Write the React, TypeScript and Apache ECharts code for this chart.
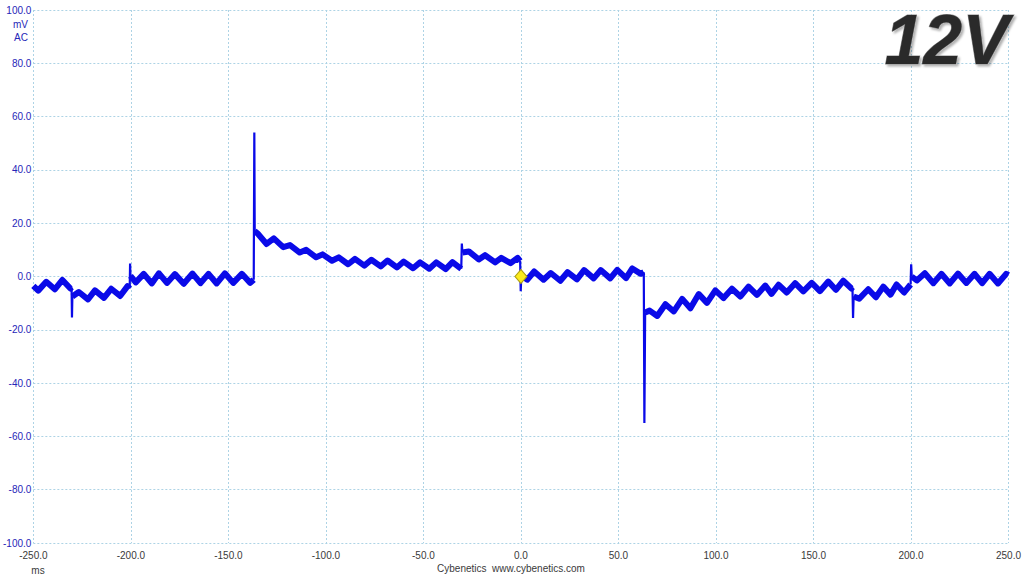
import React, { useEffect, useRef } from "react";
import * as echarts from "echarts";

// ---- Data (time in ms, ripple in mV) ----
const segA: [number, number][] = [
  [-250, -3.5], [-247.5, -5.3], [-243.4, -2.0], [-239.0, -4.8], [-235.1, -1.3], [-231.0, -4.5], [-230.4, -4.0],
];
const segB: [number, number][] = [
  [-230.0, -7.5], [-226.7, -5.8], [-222.0, -8.6], [-218.4, -5.2], [-213.8, -8.0], [-210.1, -4.6],
  [-205.5, -7.3], [-201.7, -3.6], [-200.6, -4.5],
];
const segC: [number, number][] = [
  [-200.2, 0.2], [-197.5, -2.2], [-193.4, 1.0], [-189.3, -2.6], [-185.6, 1.2], [-181.5, -2.4],
  [-177.4, 0.9], [-172.9, -2.7], [-168.4, 1.1], [-164.3, -2.5], [-160.2, 1.0], [-156.0, -2.6],
  [-151.8, 1.2], [-147.5, -2.4], [-143.1, 1.0], [-138.8, -2.4], [-137.0, -1.2],
];
const segD: [number, number][] = [
  [-136.5, 17.0], [-135.1, 16.2], [-130.4, 12.2], [-126.7, 14.3], [-121.9, 11.0], [-118.4, 11.8],
  [-113.4, 9.0], [-110.1, 10.0], [-105.0, 7.2], [-101.7, 8.3], [-96.9, 5.9], [-93.4, 7.2],
  [-88.6, 4.6], [-85.1, 6.6], [-80.3, 4.1], [-76.7, 6.3], [-71.9, 3.8], [-68.4, 6.0],
  [-63.6, 3.4], [-60.1, 5.6], [-55.3, 3.1], [-51.7, 5.3], [-47.0, 2.9], [-43.4, 5.3],
  [-38.6, 2.8], [-35.1, 5.4], [-30.6, 2.9],
];
const segE: [number, number][] = [
  [-30.0, 9.0], [-26.7, 9.4], [-21.6, 6.4], [-18.4, 8.0], [-13.2, 5.3], [-10.1, 7.0],
  [-5.3, 5.0], [-1.7, 7.0], [-0.4, 5.8],
];
const segF: [number, number][] = [
  [0.2, 0.5], [3.2, -1.2], [6.8, 1.9], [11.6, -1.2], [15.3, 1.3], [20.2, -1.6], [23.9, 1.6],
  [28.7, -1.1], [32.4, 2.4], [37.3, -0.7], [40.9, 2.4], [45.8, -0.7], [49.4, 2.5], [53.9, -0.6],
  [57.1, 3.0], [61.5, 1.0], [63.0, 1.6],
];
const segG: [number, number][] = [
  [63.7, -13.5], [66.0, -12.8], [69.9, -14.8], [74.1, -10.4], [78.4, -13.1], [82.7, -8.4],
  [86.9, -11.9], [91.2, -6.6], [95.4, -9.9], [99.7, -5.2], [103.9, -8.1], [108.2, -4.6],
  [112.5, -7.5], [116.7, -3.8], [121.0, -6.9], [125.3, -3.4], [128.5, -6.5], [132.1, -3.1],
  [136.3, -6.0], [140.6, -2.5], [144.8, -5.6], [149.1, -2.4], [153.3, -5.5], [157.6, -1.9],
  [161.5, -5.0], [165.3, -1.6], [169.5, -4.5], [170.0, -4.0],
];
const segH: [number, number][] = [
  [170.6, -7.5], [173.5, -8.3], [178.1, -4.8], [182.0, -7.8], [185.8, -3.8], [189.5, -6.8],
  [192.6, -3.0], [196.5, -6.0], [199.8, -3.0],
];
const segI: [number, number][] = [
  [200.4, 0.0], [203.0, -1.5], [207.1, 1.2], [211.5, -2.5], [215.6, 1.0], [219.9, -2.6],
  [224.1, 1.1], [228.4, -2.4], [232.6, 1.0], [236.5, -2.5], [240.3, 1.0], [244.6, -2.6],
  [248.8, 1.0], [250.0, 0.5],
];

// transient spikes (thin), joining the segments
const spike1: [number, number][] = [[-230.4, -4.0], [-230.2, -15.4], [-230.0, -7.5]];
const spike2: [number, number][] = [[-200.6, -4.5], [-200.4, 4.9], [-200.2, 0.2]];
const spike3: [number, number][] = [[-137.0, -1.2], [-136.7, 54.0], [-136.5, 17.0]];
const spike4: [number, number][] = [[-30.6, 2.9], [-30.3, 12.4], [-30.0, 9.0]];
const spike5: [number, number][] = [[-0.4, 5.8], [-0.1, -5.5], [0.2, 0.5]];
const spike6: [number, number][] = [[63.0, 1.6], [63.3, -55.0], [63.7, -13.5]];
const spike7: [number, number][] = [[170.0, -4.0], [170.3, -15.6], [170.6, -7.5]];
const spike8: [number, number][] = [[199.8, -3.0], [200.1, 4.6], [200.4, 0.0]];

const triggerPoint: [number, number][] = [[0, 0]];

const xRange = [-250, 250];
const yRange = [-100, 100];

const TRACE = "#0a0ae8";
const GRID = "#add3e5";
const YLABEL = "#2626b8";
const XLABEL = "#3a3a3a";
const FONT = "'Liberation Sans', Arial, sans-serif";

export default function App() {
  const ref = useRef<HTMLDivElement>(null);
  useEffect(() => {
    if (!ref.current) return;
    const chart = echarts.init(ref.current, undefined, { renderer: "svg" });
    const segments = [segA, segB, segC, segD, segE, segF, segG, segH, segI];
    const spikes = [spike1, spike2, spike3, spike4, spike5, spike6, spike7, spike8];
    chart.setOption({
      animation: false,
      backgroundColor: "#ffffff",
      grid: { left: 31, right: 14, top: 10, bottom: 33, containLabel: false },
      xAxis: {
        type: "value",
        min: xRange[0],
        max: xRange[1],
        interval: 50,
        axisLine: { show: false },
        axisTick: { show: false },
        axisLabel: {
          color: XLABEL,
          fontSize: 10,
          fontFamily: FONT,
          margin: 7,
          formatter: (v: number) => v.toFixed(1),
        },
        splitLine: { show: true, lineStyle: { color: GRID, type: [2, 2], width: 1 } },
      },
      yAxis: {
        type: "value",
        min: yRange[0],
        max: yRange[1],
        interval: 20,
        axisLine: { show: false },
        axisTick: { show: false },
        axisLabel: {
          color: YLABEL,
          fontSize: 10,
          fontFamily: FONT,
          margin: 2,
          formatter: (v: number) => v.toFixed(1),
        },
        splitLine: { show: true, lineStyle: { color: GRID, type: [2, 2], width: 1 } },
      },
      series: [
        ...segments.map((s) => ({
          type: "line",
          data: s,
          symbol: "none",
          silent: true,
          lineStyle: { color: TRACE, width: 6, join: "round", cap: "butt" },
          z: 2,
        })),
        ...spikes.map((s) => ({
          type: "line",
          data: s,
          symbol: "none",
          silent: true,
          lineStyle: { color: TRACE, width: 2.2 },
          z: 3,
        })),
        {
          type: "scatter",
          data: triggerPoint,
          symbol: "diamond",
          symbolSize: [12, 14],
          itemStyle: { color: "#fbeb1c", borderColor: "#b0a010", borderWidth: 1, opacity: 1 },
          z: 10,
        },
      ],
      graphic: [
        {
          type: "text",
          x: 28,
          y: 24,
          style: { text: "mV", fill: YLABEL, font: `10px ${FONT}`, align: "right", verticalAlign: "middle" },
        },
        {
          type: "text",
          x: 28,
          y: 37,
          style: { text: "AC", fill: YLABEL, font: `10px ${FONT}`, align: "right", verticalAlign: "middle" },
        },
        {
          type: "text",
          x: 38,
          y: 570,
          style: { text: "ms", fill: XLABEL, font: `10px ${FONT}`, align: "center", verticalAlign: "middle" },
        },
        {
          type: "text",
          x: 511,
          y: 568,
          style: {
            text: "Cybenetics  www.cybenetics.com",
            fill: XLABEL,
            font: `10px ${FONT}`,
            align: "center",
            verticalAlign: "middle",
          },
        },
        {
          type: "text",
          x: 1009,
          y: 40,
          z: 10,
          style: {
            text: "12V",
            font: `italic bold 70px ${FONT}`,
            align: "right",
            verticalAlign: "middle",
            fill: "#2b2b2b",
            stroke: "#909090",
            lineWidth: 1,
            textShadowColor: "rgba(0,0,0,0.3)",
            textShadowBlur: 2,
            textShadowOffsetX: 2,
            textShadowOffsetY: 2,
          },
        },
      ],
    });
    return () => chart.dispose();
  }, []);
  return (
    <div
      ref={ref}
      style={{ position: "fixed", left: 0, top: 0, width: 1024, height: 576, background: "#fff" }}
    />
  );
}
